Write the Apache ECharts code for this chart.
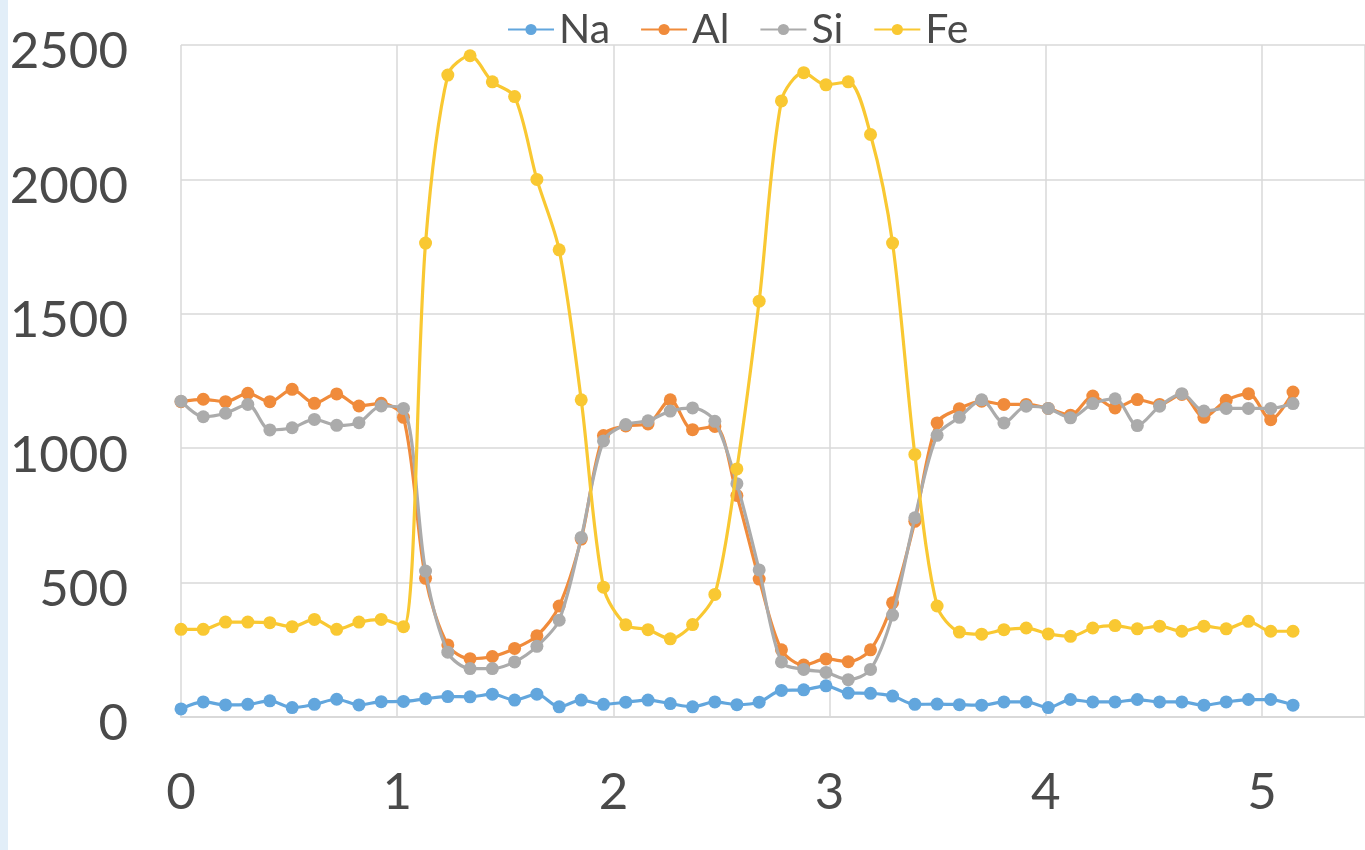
<!DOCTYPE html>
<html>
<head>
<meta charset="utf-8">
<script src="https://cdn.jsdelivr.net/npm/echarts@6/dist/echarts.min.js"></script>
<style>
  html, body { margin: 0; padding: 0; background: #ffffff; }
  #strip { position: absolute; left: 0; top: 0; width: 8px; height: 850px; background: #E2EEF8; }
  #chart { position: absolute; left: 0; top: 0; width: 1365px; height: 850px; }
</style>
</head>
<body>
<div id="chart"></div>
<div id="strip"></div>
<script>
// x positions of the samples
const xs = [0, 0.103, 0.206, 0.309, 0.411, 0.514, 0.617, 0.720, 0.823, 0.926,
  1.029, 1.131, 1.234, 1.337, 1.440, 1.543, 1.646, 1.749, 1.851, 1.954,
  2.057, 2.160, 2.263, 2.366, 2.469, 2.571, 2.674, 2.777, 2.880, 2.983,
  3.086, 3.189, 3.291, 3.394, 3.497, 3.600, 3.703, 3.806, 3.909, 4.011,
  4.114, 4.217, 4.320, 4.423, 4.526, 4.629, 4.731, 4.834, 4.937, 5.040, 5.143];

const seriesNames = ['Na', 'Al', 'Si', 'Fe'];

const na = [30, 56, 45, 47, 60, 35, 47, 66, 45, 57,
  58, 68, 76, 75, 85, 63, 85, 38, 63, 47,
  55, 63, 50, 38, 56, 46, 55, 99, 101, 116,
  89, 88, 78, 47, 48, 46, 44, 56, 56, 35,
  65, 56, 56, 65, 56, 56, 44, 56, 65, 65, 44];

const al = [1173, 1182, 1173, 1204, 1173, 1219, 1167, 1202, 1157, 1167,
  1115, 516, 268, 217, 225, 255, 302, 413, 662, 1047,
  1083, 1090, 1180, 1069, 1081, 824, 513, 250, 193, 216,
  206, 250, 425, 728, 1094, 1147, 1175, 1163, 1163, 1148,
  1123, 1194, 1150, 1181, 1163, 1200, 1115, 1178, 1203, 1106, 1209];

const si = [1175, 1117, 1130, 1163, 1068, 1076, 1107, 1085, 1095, 1157,
  1148, 543, 241, 180, 180, 205, 263, 360, 668, 1027,
  1088, 1102, 1138, 1150, 1100, 868, 547, 205, 177, 166,
  139, 177, 379, 741, 1048, 1115, 1180, 1094, 1156, 1148,
  1113, 1166, 1184, 1084, 1156, 1203, 1138, 1148, 1148, 1148, 1166];

const fe = [326, 326, 353, 353, 351, 336, 363, 326, 353, 363,
  336, 1763, 2388, 2460, 2363, 2308, 2000, 1738, 1180, 483,
  343, 325, 291, 344, 456, 923, 1547, 2292, 2397, 2352,
  2363, 2167, 1763, 977, 413, 316, 308, 325, 331, 309,
  300, 331, 340, 328, 338, 319, 338, 328, 356, 319, 319];

const yTicks = [0, 500, 1000, 1500, 2000, 2500];

const colors = ['#62A6DD', '#F08B3B', '#ABABAB', '#F9C832'];
const values = [na, al, si, fe];

const chart = echarts.init(document.getElementById('chart'), null, { renderer: 'canvas' });

const series = seriesNames.map((name, k) => ({
  name: name,
  type: 'line',
  data: xs.map((x, i) => [x, values[k][i]]),
  smooth: 0.3,
  symbol: 'circle',
  symbolSize: 13,
  showSymbol: true,
  lineStyle: { width: 3.2, color: colors[k] },
  itemStyle: { color: colors[k] },
  z: 2 + k
}));

chart.setOption({
  animation: false,
  backgroundColor: '#ffffff',
  textStyle: { fontFamily: 'Lato' },
  legend: {
    data: seriesNames,
    left: 502,
    top: 4,
    itemWidth: 46,
    itemHeight: 14,
    itemGap: 30,
    textStyle: { fontSize: 41, color: '#4A4A4A', fontFamily: 'Lato' }
  },
  grid: { left: 181, top: 45, right: 0, bottom: 133, containLabel: false },
  xAxis: {
    type: 'value',
    min: 0,
    max: 5.476,
    interval: 1,
    axisLine: { show: true, lineStyle: { color: '#D9D9D9', width: 2 } },
    axisTick: { show: false },
    axisLabel: {
      showMaxLabel: false,
      fontSize: 51,
      color: '#4A4A4A',
      fontFamily: 'Lato',
      margin: 50
    },
    splitLine: { show: true, lineStyle: { color: '#D9D9D9', width: 1.5 } }
  },
  yAxis: {
    type: 'value',
    min: yTicks[0],
    max: yTicks[yTicks.length - 1],
    interval: 500,
    axisLine: { show: false },
    axisTick: { show: false },
    axisLabel: {
      color: '#4A4A4A',
      margin: 53,
      formatter: function (v) { return '{a|' + String(v) + '}'; },
      rich: {
        a: { fontSize: 51, color: '#4A4A4A', fontFamily: 'Lato', padding: [14, 0, 0, 0] }
      }
    },
    splitLine: { show: true, lineStyle: { color: '#D9D9D9', width: 1.5 } }
  },
  series: series
});
</script>
</body>
</html>
